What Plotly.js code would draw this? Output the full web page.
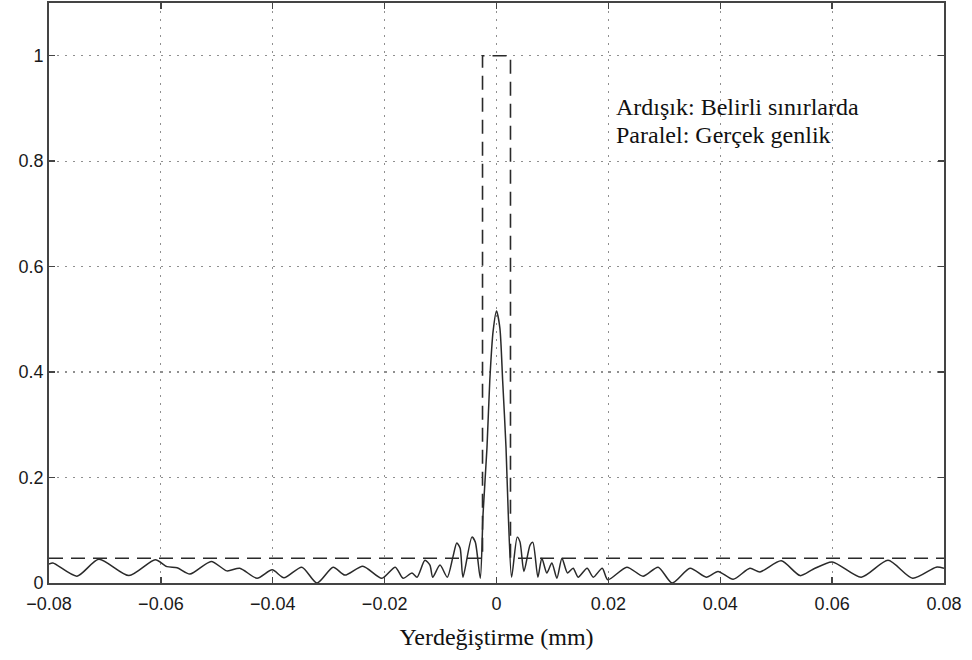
<!DOCTYPE html>
<html>
<head>
<meta charset="utf-8">
<script src="https://cdn.plot.ly/plotly-3.0.1.min.js"></script>
<style>html,body{margin:0;padding:0;background:#fff;}#chart{width:972px;height:660px;}</style>
</head>
<body>
<div id="chart"></div>
<script>
// Solid curve: "Paralel" (actual amplitude)
const solidX = [-0.08, -0.0793, -0.075, -0.0711, -0.0657, -0.061, -0.0589, -0.0571, -0.0548, -0.051,
  -0.0482, -0.0459, -0.0428, -0.0401, -0.038, -0.0348, -0.0321, -0.0292, -0.0271, -0.0239,
  -0.0205, -0.0181, -0.0167, -0.0151, -0.0142, -0.0128, -0.0119, -0.0114, -0.0101, -0.0088,
  -0.0078, -0.0071, -0.0065, -0.006, -0.0044, -0.0038, -0.0029, -0.0024, -0.0017, -0.0012,
  -0.0006, 0, 0.0006, 0.0011, 0.0017, 0.0021, 0.0027, 0.0037, 0.0042, 0.0049,
  0.006, 0.0065, 0.0074, 0.0081, 0.009, 0.0099, 0.0108, 0.0117, 0.0127, 0.0137,
  0.0146, 0.0162, 0.0173, 0.0189, 0.0199, 0.0233, 0.0262, 0.0289, 0.0314, 0.0346,
  0.0375, 0.0396, 0.0423, 0.0453, 0.0471, 0.0509, 0.0543, 0.0566, 0.06, 0.0652,
  0.07, 0.0744, 0.0786, 0.08];
const solidY = [0.036, 0.038, 0.013, 0.045, 0.014, 0.044, 0.031, 0.029, 0.017, 0.041,
  0.023, 0.028, 0.009, 0.025, 0.010, 0.030, 0.0, 0.030, 0.015, 0.032,
  0.009, 0.030, 0.009, 0.019, 0.011, 0.043, 0.034, 0.011, 0.034, 0.011,
  0.049, 0.076, 0.066, 0.011, 0.087, 0.078, 0.009, 0.132, 0.257, 0.384,
  0.478, 0.516, 0.484, 0.384, 0.257, 0.132, 0.011, 0.087, 0.078, 0.022,
  0.072, 0.077, 0.011, 0.047, 0.019, 0.038, 0.009, 0.047, 0.019, 0.028,
  0.011, 0.028, 0.011, 0.028, 0.006, 0.030, 0.013, 0.030, 0.0, 0.028,
  0.011, 0.022, 0.007, 0.028, 0.021, 0.042, 0.014, 0.026, 0.040, 0.011,
  0.043, 0.009, 0.030, 0.028];

// Dashed curve: "Ardışık" (within limits)
const dashX = [-0.08, -0.0025, -0.0025, 0.0025, 0.0025, 0.08];
const dashY = [0.047, 0.047, 1, 1, 0.047, 0.047];

const xTickVals = [-0.08, -0.06, -0.04, -0.02, 0, 0.02, 0.04, 0.06, 0.08];
const xTickText = ['\u22120.08', '\u22120.06', '\u22120.04', '\u22120.02', '0', '0.02', '0.04', '0.06', '0.08'];
const yTickVals = [0, 0.2, 0.4, 0.6, 0.8, 1];
const yTickText = ['0', '0.2', '0.4', '0.6', '0.8', '1'];

const xTitle = 'Yerdeğiştirme (mm)';
const noteLines = ['Ardışık: Belirli sınırlarda', 'Paralel: Gerçek genlik'];

const traces = [
  {x: dashX, y: dashY, mode: 'lines', type: 'scatter',
   line: {color: '#2a2a2a', width: 1.6, dash: '14px,8px'}, hoverinfo: 'skip'},
  {x: solidX, y: solidY, mode: 'lines', type: 'scatter',
   line: {color: '#2a2a2a', width: 1.5, shape: 'spline', smoothing: 0.7}, hoverinfo: 'skip'}
];

const axisCommon = {
  showline: true, linecolor: '#444', linewidth: 1.8, mirror: 'ticks',
  ticks: 'inside', ticklen: 6, tickcolor: '#444', tickwidth: 1.4,
  showgrid: true, gridcolor: '#8f8f8f', gridwidth: 1.2, griddash: '2px,6px',
  zeroline: false,
  tickfont: {family: 'Liberation Sans, Arial, sans-serif', size: 18, color: '#1a1a1a'}
};

const serif = 'Liberation Serif, Times New Roman, serif';

const layout = {
  width: 972, height: 660,
  margin: {l: 49, r: 28, t: 3, b: 77},
  paper_bgcolor: '#fff', plot_bgcolor: '#fff',
  showlegend: false,
  xaxis: Object.assign({}, axisCommon, {
    range: [-0.08, 0.08], tickmode: 'array', tickvals: xTickVals, ticktext: xTickText,
    ticklabelstandoff: 4,
    title: {text: xTitle, font: {family: serif, size: 24, color: '#111'}, standoff: 15}
  }),
  yaxis: Object.assign({}, axisCommon, {
    range: [0, 1.1], tickmode: 'array', tickvals: yTickVals, ticktext: yTickText
  }),
  annotations: noteLines.map((t, i) => ({
    xref: 'paper', yref: 'paper', x: 0.631, y: [0.8207, 0.7724][i],
    xanchor: 'left', yanchor: 'middle', align: 'left', showarrow: false, text: t,
    font: {family: serif, size: 24, color: '#111'}
  }))
};

Plotly.newPlot('chart', traces, layout, {staticPlot: true, displayModeBar: false});
</script>
</body>
</html>
